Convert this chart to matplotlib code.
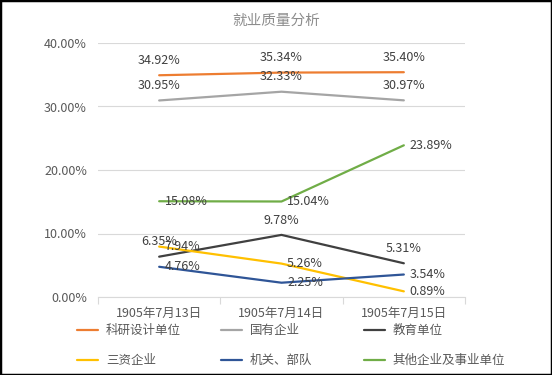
import matplotlib.pyplot as plt
import numpy as np
from matplotlib.patches import Rectangle

plt.rcParams['font.family'] = ['Noto Sans CJK SC', 'DejaVu Sans']

dates = ['1905年7月13日', '1905年7月14日', '1905年7月15日']
names = ['科研设计单位', '国有企业', '教育单位', '三资企业', '机关、部队', '其他企业及事业单位']
keyan = [34.92, 35.34, 35.40]
guoyou = [30.95, 32.33, 30.97]
jiaoyu = [6.35, 9.78, 5.31]
sanzi = [7.94, 5.26, 0.89]
jiguan = [4.76, 2.25, 3.54]
qita = [15.08, 15.04, 23.89]

series = [keyan, guoyou, jiaoyu, sanzi, jiguan, qita]
colors = ['#ED7D31', '#A5A5A5', '#404040', '#FFC000', '#2F5597', '#70AD47']
# where the data labels go: above or right of the point
label_pos = ['above', 'above', 'above', 'right', 'right', 'right']

fig = plt.figure(figsize=(5.52, 3.75), dpi=100)
ax = fig.add_axes([98 / 552, 78 / 375, 367 / 552, 254 / 375])

x = np.arange(len(dates))
lines = []
for vals, name, c, pos in zip(series, names, colors, label_pos):
    ln, = ax.plot(x, vals, color=c, lw=1.6, label=name, solid_capstyle='round')
    lines.append(ln)
    for xi, v in zip(x, vals):
        txt = '%.2f%%' % v
        if pos == 'above':
            ax.annotate(txt, (xi, v), xytext=(0, 6), textcoords='offset points',
                        ha='center', va='bottom', fontsize=9, color='#404040')
        else:
            ax.annotate(txt, (xi, v), xytext=(4, 0), textcoords='offset points',
                        ha='left', va='center', fontsize=9, color='#404040')

ax.set_xlim(-0.5, 2.5)
ax.set_ylim(0, 40)
ax.set_yticks([0, 10, 20, 30, 40])
ax.set_yticklabels(['%.2f%%' % t for t in [0, 10, 20, 30, 40]])
ax.set_xticks(x)
ax.set_xticklabels(dates)
ax.set_xticks([-0.5, 0.5, 1.5, 2.5], minor=True)
ax.tick_params(axis='x', which='major', length=0, pad=7, labelsize=9, labelcolor='#595959')
ax.tick_params(axis='x', which='minor', length=5, color='#D9D9D9', width=0.8)
ax.tick_params(axis='y', length=0, pad=8, labelsize=9, labelcolor='#595959')
ax.grid(axis='y', color='#D9D9D9', lw=0.8)
ax.set_axisbelow(True)
for s in ['top', 'right', 'left']:
    ax.spines[s].set_visible(False)
ax.spines['bottom'].set_color('#D9D9D9')
ax.spines['bottom'].set_linewidth(0.8)

fig.text(0.5, 0.945, '就业质量分析', ha='center', va='center', fontsize=10.5, color='#8C8C8C')

# legend: three columns, two rows, filled row by row
col_x = [72, 216, 359]
for j in range(3):
    hs = [lines[j], lines[j + 3]]
    ls = [names[j], names[j + 3]]
    leg = fig.legend(hs, ls, loc='upper left', bbox_to_anchor=(col_x[j] / 552, 1 - 319 / 375),
                     frameon=False, fontsize=9, labelcolor='#595959', handlelength=1.7,
                     handletextpad=0.6, labelspacing=1.35, borderaxespad=0)

fig.add_artist(Rectangle((0, 0), 1, 1, transform=fig.transFigure, fill=False,
                         edgecolor='black', lw=2.5))

fig.savefig('out.png', dpi=100)
